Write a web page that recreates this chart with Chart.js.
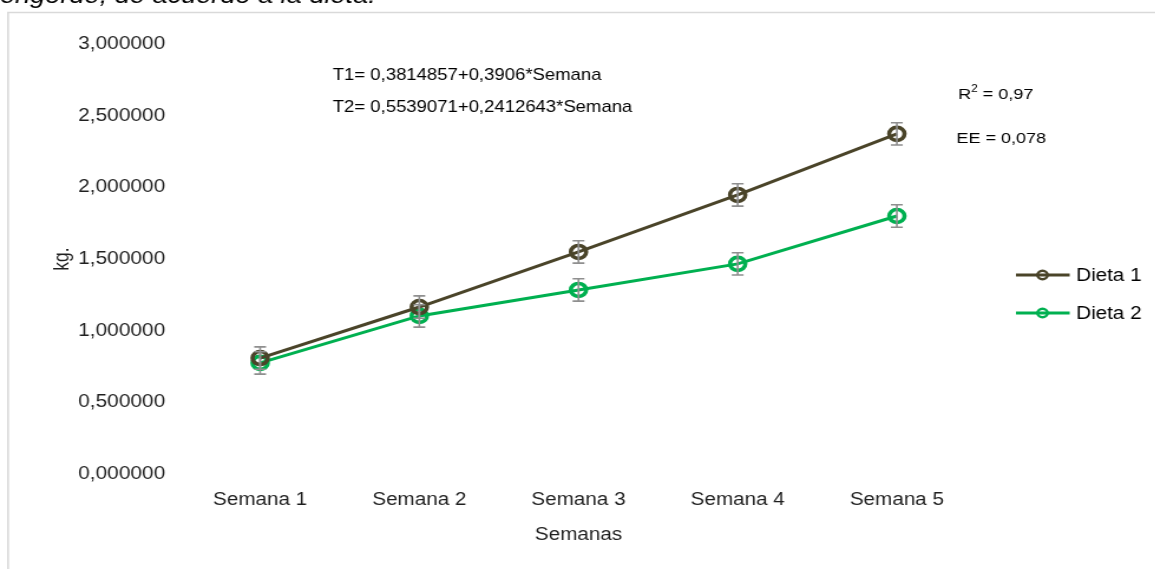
<!DOCTYPE html>
<html>
<head>
<meta charset="utf-8">
<script src="https://cdn.jsdelivr.net/npm/chart.js@4/dist/chart.umd.min.js"></script>
<style>
  html, body { margin: 0; padding: 0; background: #fff; overflow: hidden; }
  /* the chart is laid out on a narrower canvas and widened horizontally */
  #wrap { position: absolute; left: 0; top: 0; width: 979px; height: 569px;
          transform: scaleX(1.18); transform-origin: 0 0; }
</style>
</head>
<body>
<div id="wrap"><canvas id="c"></canvas></div>
<script>
// ---- data ----
const semanas = ['Semana 1', 'Semana 2', 'Semana 3', 'Semana 4', 'Semana 5'];
const dieta1 = [0.809, 1.165, 1.549, 1.947, 2.373];
const dieta2 = [0.775, 1.103, 1.284, 1.466, 1.800];
const errDieta1 = [0.078, 0.078, 0.078, 0.078, 0.078];
const errDieta2 = [0.078, 0.078, 0.078, 0.078, 0.078];
const serieNombres = ['Dieta 1', 'Dieta 2'];
const ecuaciones = ['T1= 0,3814857+0,3906*Semana', 'T2= 0,5539071+0,2412643*Semana'];
const r2Texto = '0,97';
const eeTexto = '0,078';
const leyendaFigura = 'engorde, de acuerdo a la dieta.';

const FONT = "'Liberation Sans', Arial, sans-serif";
const COL1 = '#4a4429';
const COL2 = '#00b050';
const TXT = '#1f1f1f';

Chart.defaults.font.family = FONT;
Chart.defaults.color = TXT;

// page caption, chart frame
const framePlugin = {
  id: 'frame',
  beforeDraw(chart) {
    const ctx = chart.ctx;
    ctx.save();
    ctx.fillStyle = '#fff';
    ctx.fillRect(0, 0, chart.width, chart.height);
    ctx.fillStyle = '#000';
    ctx.font = 'italic 23px ' + FONT;
    ctx.textBaseline = 'alphabetic';
    ctx.textAlign = 'left';
    ctx.fillText(leyendaFigura, 0, 3);
    ctx.strokeStyle = '#d9d9d9';
    ctx.lineWidth = 1.6;
    ctx.beginPath();
    ctx.moveTo(6.8, chart.height + 5);
    ctx.lineTo(6.8, 12.5);
    ctx.lineTo(chart.width + 5, 12.5);
    ctx.stroke();
    ctx.restore();
  }
};

// vertical error bars drawn from each dataset's errors array
const errorBarPlugin = {
  id: 'errorBars',
  afterDatasetsDraw(chart) {
    const ctx = chart.ctx;
    const y = chart.scales.y;
    ctx.save();
    ctx.strokeStyle = '#8f8f8f';
    ctx.lineWidth = 1.6;
    chart.data.datasets.forEach((ds, di) => {
      const meta = chart.getDatasetMeta(di);
      meta.data.forEach((pt, i) => {
        const e = ds.errors[i];
        const v = ds.data[i];
        const yTop = y.getPixelForValue(v + e);
        const yBot = y.getPixelForValue(v - e);
        const cap = 5;
        ctx.beginPath();
        ctx.moveTo(pt.x, yTop); ctx.lineTo(pt.x, yBot);
        ctx.moveTo(pt.x - cap, yTop); ctx.lineTo(pt.x + cap, yTop);
        ctx.moveTo(pt.x - cap, yBot); ctx.lineTo(pt.x + cap, yBot);
        ctx.stroke();
      });
    });
    ctx.restore();
  }
};

// regression equations and fit statistics
const notesPlugin = {
  id: 'notes',
  afterDraw(chart) {
    const ctx = chart.ctx;
    ctx.save();
    ctx.fillStyle = '#000';
    ctx.textBaseline = 'middle';
    ctx.textAlign = 'left';
    ctx.font = '15.7px ' + FONT;
    ctx.fillText(ecuaciones[0], 282, 76);
    ctx.fillText(ecuaciones[1], 282, 108);
    // R² with superscript
    ctx.font = '15.3px ' + FONT;
    let x = 812;
    ctx.fillText('R', x, 95);
    x += ctx.measureText('R').width;
    ctx.font = '10px ' + FONT;
    ctx.fillText('2', x, 89);
    x += ctx.measureText('2').width;
    ctx.font = '15.3px ' + FONT;
    ctx.fillText(' = ' + r2Texto, x, 95);
    ctx.fillText('EE = ' + eeTexto, 810.5, 139);
    ctx.restore();
  }
};

// legend: line with hollow marker, then series name
const legendPlugin = {
  id: 'sideLegend',
  afterDraw(chart) {
    const ctx = chart.ctx;
    ctx.save();
    const rows = [275, 313];
    chart.data.datasets.forEach((ds, i) => {
      const yy = rows[i];
      ctx.strokeStyle = ds.borderColor;
      ctx.lineWidth = 3;
      ctx.beginPath();
      ctx.moveTo(861, yy); ctx.lineTo(906.5, yy);
      ctx.stroke();
      ctx.lineWidth = 2.5;
      ctx.beginPath();
      ctx.arc(883.5, yy, 4.2, 0, Math.PI * 2);
      ctx.stroke();
      ctx.fillStyle = '#000';
      ctx.font = '17.5px ' + FONT;
      ctx.textBaseline = 'middle';
      ctx.textAlign = 'left';
      ctx.fillText(ds.label, 912, yy + 1);
    });
    ctx.restore();
  }
};

function serie(label, data, errors, color) {
  return {
    label, data, errors,
    borderColor: color,
    backgroundColor: color,
    borderWidth: 3,
    pointRadius: 6.5,
    pointBorderWidth: 3.6,
    pointBackgroundColor: 'rgba(0,0,0,0)',
    pointBorderColor: color,
    tension: 0
  };
}

new Chart(document.getElementById('c'), {
  type: 'line',
  data: {
    labels: semanas,
    datasets: [
      serie(serieNombres[0], dieta1, errDieta1, COL1),
      serie(serieNombres[1], dieta2, errDieta2, COL2)
    ]
  },
  options: {
    responsive: true,
    maintainAspectRatio: false,
    animation: false,
    layout: { padding: { left: 0, right: 151.5, top: 44, bottom: 0 } },
    plugins: { legend: { display: false }, tooltip: { enabled: false } },
    scales: {
      x: {
        offset: true,
        grid: { display: false, drawTicks: false },
        border: { display: false },
        ticks: { padding: 16, font: { size: 17.5 }, color: TXT, maxRotation: 0 },
        title: { display: true, text: 'Semanas', font: { size: 17.5 }, color: TXT,
                 padding: { top: 0, bottom: 23 } },
        afterFit(s) { s.height = 95; }
      },
      y: {
        min: 0, max: 3,
        grid: { display: false, drawTicks: false },
        border: { display: false },
        ticks: {
          stepSize: 0.5, padding: 13, font: { size: 17.7 }, color: TXT,
          callback: v => v.toFixed(6).replace('.', ',')
        },
        title: { display: true, text: 'kg.', font: { size: 17.5 }, color: TXT,
                 padding: { top: 43, bottom: 0 } },
        afterFit(s) { s.width = 153; }
      }
    }
  },
  plugins: [framePlugin, errorBarPlugin, notesPlugin, legendPlugin]
});
</script>
</body>
</html>
